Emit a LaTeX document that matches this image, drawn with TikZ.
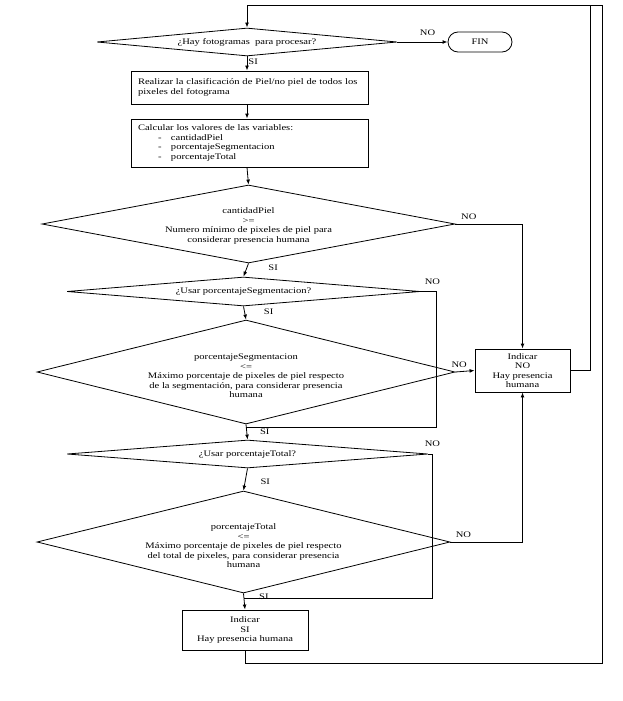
\documentclass[tikz,border=0pt]{standalone}
\usepackage{fontspec}
\setmainfont{Liberation Serif}[FakeStretch=1.24]
\usetikzlibrary{arrows.meta,shapes.geometric,shapes.misc}
\newcommand{\guion}[1]{\hspace*{20pt}\makebox[13pt][l]{-}#1}

\begin{document}
\begin{tikzpicture}[x=1pt, y=-1pt, >={Latex[length=5pt,width=3.8pt]}, line width=0.8pt,
                    font=\fontsize{8.5}{9.5}\selectfont,
                    dec/.style={draw, diamond, inner sep=0pt},
                    proc/.style={draw, rectangle, inner xsep=7pt, inner ysep=0pt, align=left},
                    outbox/.style={draw, rectangle, inner sep=0pt, align=center},
                    term/.style={draw, rounded rectangle, inner sep=0pt},
                    lbl/.style={inner sep=1pt}]
  \useasboundingbox (0,0) rectangle (623,701);
  % loop corners
  \coordinate (tr) at (602,5);
  \coordinate (ti) at (590,5);
  % start
  \node[dec, minimum width=300, minimum height=28] (hay) at (247,42) {};
  \node at (hay) {¿Hay fotogramas\ \ para procesar?};
  \node[term, minimum width=64, minimum height=20] (fin) at (480,42) {FIN};
  % process boxes
  \node[proc, minimum height=33, text width=223] (clas) at (249.5,87.5)
    {Realizar la clasificación de Piel/no piel de todos los\\pixeles del fotograma};
  \node[proc, minimum height=48, text width=223] (calc) at (249.5,143)
    {Calcular los valores de las variables:\\\guion{cantidadPiel}\\\guion{porcentajeSegmentacion}\\\guion{porcentajeTotal}};
  % decisions
  \node[dec, minimum width=413, minimum height=78] (piel) at (248.5,224) {};
  \node[align=center] at ([yshift=-2pt]piel.center) {cantidadPiel\\>=\\Numero mínimo de pixeles de piel para\\considerar presencia humana};
  \node[dec, minimum width=353, minimum height=29] (useg) at (243.5,291.5) {};
  \node at (useg) {¿Usar porcentajeSegmentacion?};
  \node[dec, minimum width=418, minimum height=104] (seg) at (246,372) {};
  \node[align=center] at ([yshift=-4pt]seg.center) {porcentajeSegmentacion\\<=\\Máximo porcentaje de pixeles de piel respecto\\de la segmentación, para considerar presencia\\humana};
  \node[dec, minimum width=361, minimum height=28] (utot) at (247.5,454) {};
  \node at (utot) {¿Usar porcentajeTotal?};
  \node[dec, minimum width=413, minimum height=102] (tot) at (243.5,542) {};
  \node[align=center] at ([yshift=-4pt]tot.center) {porcentajeTotal\\<=\\Máximo porcentaje de pixeles de piel respecto\\del total de pixeles, para considerar presencia\\humana};
  % results
  \node[outbox, minimum width=95, minimum height=43] (indno) at (522.5,370.5) {Indicar\\NO\\Hay presencia\\humana};
  \node[outbox, minimum width=126, minimum height=40] (indsi) at (245,630) {Indicar\\SI\\Hay presencia humana};
  % merge points
  \coordinate (m1) at (246,427);
  \coordinate (m2) at (244,598);
  % connectors
  \draw[->] (tr) -| (hay.north);
  \draw[->] (hay.east) -- node[lbl, above=5pt, pos=0.6] {NO} (fin.west);
  \draw[->] (hay.south) -- node[lbl, right, pos=0.4] {SI} (hay.south |- clas.north);
  \draw[->] (hay.south |- clas.south) -- (hay.south |- calc.north);
  \draw[->] (hay.south |- calc.south) -- (piel.north);
  \draw[->] (piel.east) -| node[lbl, above=3pt, pos=0.1] {NO} (indno.north);
  \draw[->] (piel.south) -- node[lbl, anchor=west, xshift=20pt, pos=0.3] {SI} (useg.north);
  \draw (useg.east) -- ++(16,0) node[lbl, above=6pt, xshift=-4pt] {NO} |- (m1);
  \draw[->] (useg.south) -- node[lbl, anchor=west, xshift=18pt, pos=0.4] {SI} (seg.north);
  \draw[->] (seg.east) -- node[lbl, above=3pt, pos=0.2] {NO} (indno.west);
  \draw[->] (seg.south) -- node[lbl, anchor=west, xshift=12pt, pos=0.45] {SI} (utot.north);
  \draw (utot.east) -- ++(4,0) node[lbl, above=6pt] {NO} |- (m2);
  \draw[->] (utot.south) -- node[lbl, anchor=west, xshift=14pt, pos=0.6] {SI} (tot.north);
  \draw[->] (tot.east) -| node[lbl, above=3pt, pos=0.09] {NO} (indno.south);
  \draw[->] (tot.south) -- node[lbl, anchor=west, xshift=14pt, pos=0.2] {SI} (indsi.north);
  \draw (indno.east) -| (ti);
  \draw (indsi.south) -- ++(0,13) -| (tr);
\end{tikzpicture}
\end{document}
